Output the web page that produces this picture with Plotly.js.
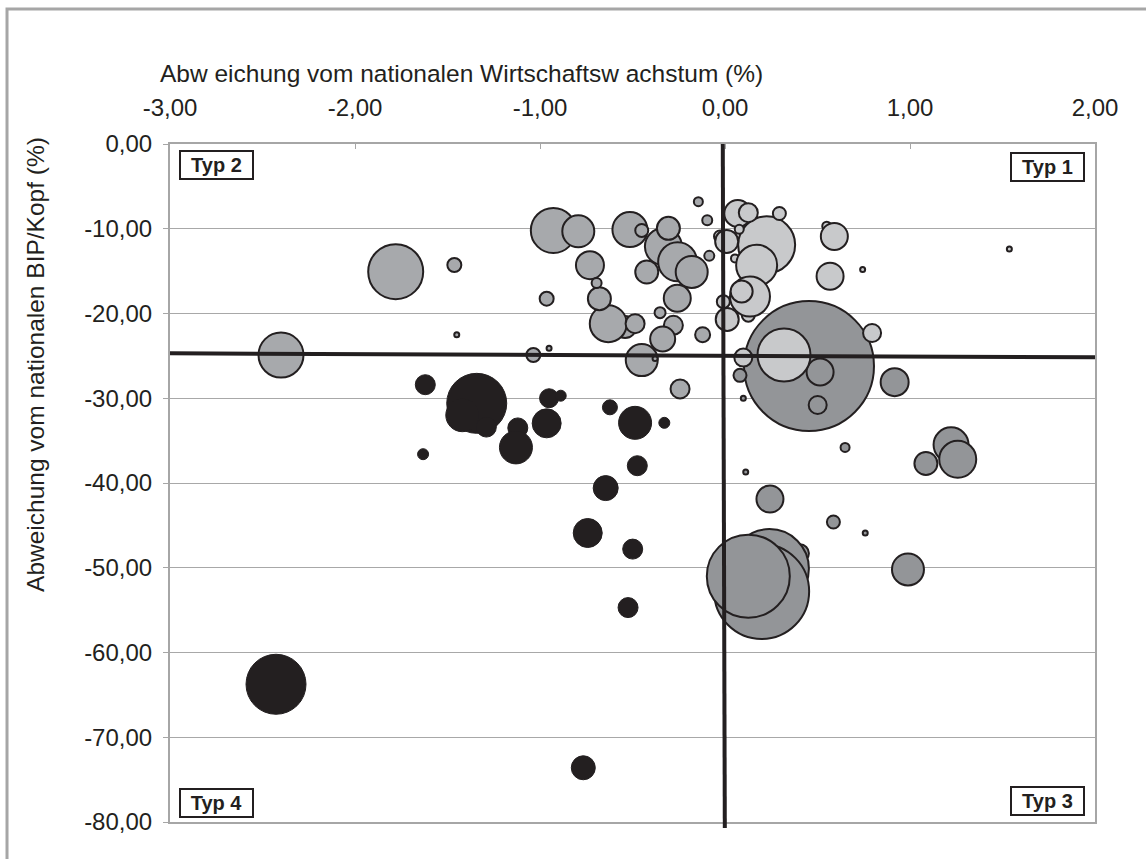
<!DOCTYPE html>
<html>
<head>
<meta charset="utf-8">
<script src="https://cdn.plot.ly/plotly-3.0.1.min.js"></script>
<style>
html, body { margin: 0; padding: 0; background: #ffffff; }
#chart { width: 1146px; height: 859px; }
</style>
</head>
<body>
<div id="chart"></div>
<script>
// ---- data ----
const xTickVals = [-3, -2, -1, 0, 1, 2];
const xTickText = ['-3,00', '-2,00', '-1,00', '0,00', '1,00', '2,00'];
const yTickVals = [0, -10, -20, -30, -40, -50, -60, -70, -80];
const yTickText = ['0,00', '-10,00', '-20,00', '-30,00', '-40,00', '-50,00', '-60,00', '-70,00', '-80,00'];

const xTitle = 'Abw eichung vom nationalen Wirtschaftsw achstum (%)';
const yTitle = 'Abweichung vom nationalen BIP/Kopf (%)';
const typeLabels = ['Typ 1', 'Typ 2', 'Typ 3', 'Typ 4'];

// Typ 3 group (dark grey)
const typ3X = [0.454, 0.514, 0.501, 0.081, 0.099, 0.917, 0.649, 1.222, 1.258, 1.086, 0.112, 0.243, 0.586, 0.758, 0.989, 0.405, 0.240, 0.198, 0.126];
const typ3Y = [-26.2, -26.9, -30.8, -27.3, -30.0, -28.1, -35.8, -35.5, -37.2, -37.7, -38.7, -41.9, -44.6, -45.9, -50.2, -48.3, -50.1, -52.8, -51.0];
const typ3Size = [130, 27, 18, 13, 5, 28, 9, 35, 37, 23, 5, 27, 13, 5, 32, 18, 79, 95, 83];

// Typ 2 group (medium grey)
const typ2X = [-1.780, -2.400, -0.928, -0.793, -0.514, -0.450, -0.333, -0.306, -0.256, -0.180, -0.730, -0.423, -0.540, -0.631, -0.486, -0.679, -0.694, -0.258, -0.351, -0.279, -0.337, -0.121, -0.450, -0.378, -0.243, -1.463, -0.964, -1.450, -1.036, -0.951, -0.085, -0.144, -0.096];
const typ2Y = [-15.07, -24.9, -10.2, -10.3, -10.1, -10.2, -12.1, -9.95, -13.9, -15.1, -14.3, -15.1, -21.6, -21.2, -21.2, -18.25, -16.4, -18.2, -19.9, -21.4, -23.0, -22.5, -25.5, -25.3, -28.9, -14.28, -18.25, -22.5, -24.9, -24.1, -13.2, -6.8, -9.0];
const typ2Size = [55, 45, 45, 32, 35, 13, 37, 23, 39, 32, 28, 23, 22, 37, 19, 23, 10, 27, 11, 19, 25, 15, 32, 5, 19, 14, 14, 5, 14, 5, 10, 9, 10];

// Typ 1 group (light grey)
const typ1X = [0.225, 0.319, 0.069, 0.126, 0.294, -0.027, 0.009, 0.077, 0.054, 0.171, 0.126, 0.135, 0.090, -0.009, 0.012, 0.550, 0.591, 0.568, 0.744, 1.537, 0.795, 0.099];
const typ1Y = [-11.9, -24.9, -8.2, -8.1, -8.2, -10.9, -11.5, -10.07, -13.5, -14.3, -20.2, -18.0, -17.4, -18.6, -20.7, -9.7, -10.9, -15.6, -14.8, -12.4, -22.3, -25.2];
const typ1Size = [57, 53, 27, 19, 13, 12, 23, 9, 8, 41, 13, 40, 22, 13, 23, 9, 27, 27, 5, 5, 18, 18];

// Typ 4 group (black)
const typ4X = [-1.620, -1.342, -1.420, -1.290, -1.120, -1.130, -0.951, -0.964, -1.632, -0.888, -0.622, -0.486, -0.328, -0.474, -0.645, -0.742, -0.499, -0.524, -0.766, -2.427];
const typ4Y = [-28.4, -30.6, -32.0, -33.4, -33.5, -35.8, -30.0, -32.96, -36.6, -29.7, -31.07, -32.9, -32.9, -37.96, -40.6, -45.9, -47.8, -54.7, -73.6, -63.75];
const typ4Size = [20, 60, 33, 20, 20, 33, 19, 29, 11, 11, 15, 33, 11, 20, 25, 29, 20, 20, 24, 60];

// reference lines
const hLineX = [-3, 2];
const hLineY = [-24.70, -25.17];
const vLineX = [-0.012, -0.001];

// ---- styling ----
const FONT = 'Liberation Sans, Arial, sans-serif';
const INK = '#231f20';
const AXISGREY = '#a6a6a6';

function bubbles(x, y, s, fill, lineW) {
  return {
    type: 'scatter', mode: 'markers', x: x, y: y, hoverinfo: 'x+y',
    marker: { size: s, sizemode: 'diameter', sizeref: 1, color: fill, opacity: 1,
              line: { color: INK, width: lineW } }
  };
}

const traces = [
  bubbles(typ3X, typ3Y, typ3Size, '#939598', 2),
  bubbles(typ2X, typ2Y, typ2Size, '#a7a9ac', 2),
  bubbles(typ1X, typ1Y, typ1Size, '#c8c9cb', 2),
  bubbles(typ4X, typ4Y, typ4Size, INK, 1),
  { type: 'scatter', mode: 'lines', x: hLineX, y: hLineY, hoverinfo: 'skip',
    line: { color: INK, width: 4 } }
];

function typBox(text, x, y, xa, ya) {
  return { text: '<b>' + text + '</b>', xref: 'paper', yref: 'paper', x: x, y: y,
           xanchor: xa, yanchor: ya, showarrow: false,
           font: { family: FONT, size: 20, color: INK },
           bordercolor: INK, borderwidth: 2, borderpad: 0, bgcolor: '#ffffff',
           width: 71, height: 26, align: 'center', valign: 'middle' };
}

const layout = {
  width: 1146, height: 859,
  margin: { l: 170, r: 51, t: 144, b: 37, pad: 0 },
  paper_bgcolor: '#ffffff', plot_bgcolor: '#ffffff',
  showlegend: false,
  font: { family: FONT, color: INK },
  xaxis: {
    range: [-3, 2], side: 'top', tickmode: 'array', tickvals: xTickVals, ticktext: xTickText,
    ticks: 'inside', ticklen: 5, tickwidth: 1, tickcolor: AXISGREY,
    showgrid: false, zeroline: false, showline: true, mirror: true,
    linecolor: AXISGREY, linewidth: 2, ticklabelstandoff: 16,
    tickfont: { family: FONT, size: 24, color: INK }, fixedrange: true
  },
  yaxis: {
    range: [-80, 0], tickmode: 'array', tickvals: yTickVals, ticktext: yTickText,
    ticks: 'outside', ticklen: 5, tickwidth: 1, tickcolor: AXISGREY,
    showgrid: true, gridcolor: '#a8a8a8', gridwidth: 1,
    zeroline: false, showline: true, mirror: true,
    linecolor: AXISGREY, linewidth: 2, ticklabelstandoff: 6,
    tickfont: { family: FONT, size: 24, color: INK }, fixedrange: true
  },
  shapes: [
    { type: 'rect', xref: 'paper', yref: 'paper', x0: -0.1762, x1: 1.3, y0: -0.3, y1: 1.1991,
      line: { color: '#a6a6a6', width: 3 }, fillcolor: 'rgba(0,0,0,0)', layer: 'below' },
    { type: 'line', xref: 'x', yref: 'paper', x0: vLineX[0], x1: vLineX[1], y0: 1, y1: -0.009,
      line: { color: INK, width: 4 }, layer: 'above' }
  ],
  annotations: [
    { text: xTitle, xref: 'paper', yref: 'paper', x: 0.315, y: 1.104, xanchor: 'center', yanchor: 'middle',
      showarrow: false, font: { family: FONT, size: 24.5, color: INK } },
    { text: yTitle, xref: 'paper', yref: 'paper', x: -0.146, y: 0.6755, xanchor: 'center', yanchor: 'middle',
      textangle: -90, showarrow: false, font: { family: FONT, size: 24.5, color: INK } },
    typBox(typeLabels[1], 0.0097, 0.991, 'left', 'top'),
    typBox(typeLabels[0], 0.989, 0.988, 'right', 'top'),
    typBox(typeLabels[3], 0.0097, 0.0059, 'left', 'bottom'),
    typBox(typeLabels[2], 0.989, 0.0088, 'right', 'bottom')
  ]
};

Plotly.newPlot('chart', traces, layout, { displayModeBar: false, staticPlot: true });
</script>
</body>
</html>
